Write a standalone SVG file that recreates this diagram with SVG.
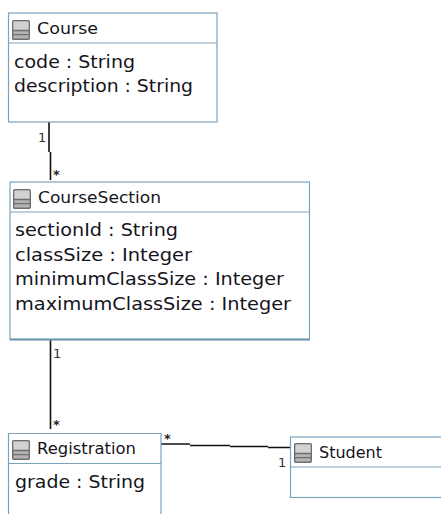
<svg xmlns="http://www.w3.org/2000/svg" width="441" height="514" viewBox="0 0 441 514">
<style>
.box{fill:#fff;stroke:#7ba2bd;stroke-width:1.2}
.div{fill:none;stroke:#7ba2bd;stroke-width:1.2}
text{font-family:"DejaVu Sans","Liberation Sans",sans-serif;fill:#141420}
.t{font-size:16.5px}
.a{font-size:18.5px}
.m{font-size:13px;fill:#333}
.s{font-size:13px;font-weight:bold;fill:#222}
.c{fill:none;stroke:#111;stroke-width:1.6}
</style>
<defs>
<g id="icon">
<rect x="0.7" y="0.7" width="16.6" height="18.6" rx="1" fill="#b4b4b4" stroke="#6e6e6e" stroke-width="1.4"/>
<rect x="1.5" y="1.5" width="15" height="8.5" fill="#d2d2d2"/>
<path d="M1 10.5H17M1 14.7H17" stroke="#6e6e6e" stroke-width="1.3" fill="none"/>
</g>
</defs>
<rect width="441" height="514" fill="#fff"/>
<g id="connectors">
<path class="c" d="M49 122V152M50.5 152V180"/>
<path class="c" d="M50.5 340V429"/>
<path class="c" d="M161 444H190M190 445.5H230M230 446.5H268M268 447.5H290"/>
<text class="m" x="38" y="142">1</text>
<text class="s" x="53" y="179">*</text>
<text class="m" x="53" y="358">1</text>
<text class="s" x="53" y="429">*</text>
<text class="s" x="164" y="443">*</text>
<text class="m" x="278" y="467">1</text>
</g>
<g id="course">
<rect class="box" x="8.5" y="13" width="208.5" height="109"/>
<path class="div" d="M8.5 43H217"/>
<use href="#icon" x="12" y="20"/>
<text class="t" x="37" y="34" textLength="61" lengthAdjust="spacingAndGlyphs">Course</text>
<text class="a" x="14" y="68" textLength="121" lengthAdjust="spacingAndGlyphs">code : String</text>
<text class="a" x="14" y="92" textLength="179" lengthAdjust="spacingAndGlyphs">description : String</text>
</g>
<g id="coursesection">
<rect class="box" x="10" y="182" width="299.5" height="157.5"/>
<path d="M10 339.5H309.5" stroke="#6b93b0" stroke-width="2" fill="none"/>
<path class="div" d="M10 212H309.5"/>
<use href="#icon" x="13" y="189"/>
<text class="t" x="38" y="203" textLength="123" lengthAdjust="spacingAndGlyphs">CourseSection</text>
<text class="a" x="15" y="236" textLength="163" lengthAdjust="spacingAndGlyphs">sectionId : String</text>
<text class="a" x="15" y="261" textLength="177" lengthAdjust="spacingAndGlyphs">classSize : Integer</text>
<text class="a" x="15" y="285" textLength="269" lengthAdjust="spacingAndGlyphs">minimumClassSize : Integer</text>
<text class="a" x="15" y="310" textLength="276" lengthAdjust="spacingAndGlyphs">maximumClassSize : Integer</text>
</g>
<g id="registration">
<path class="box" d="M8.5 515V433.5H161V515"/>
<path class="div" d="M8.5 463.5H161"/>
<use href="#icon" x="12" y="440"/>
<text class="t" x="37" y="454" textLength="99" lengthAdjust="spacingAndGlyphs">Registration</text>
<text class="a" x="15" y="488" textLength="130" lengthAdjust="spacingAndGlyphs">grade : String</text>
</g>
<g id="student">
<rect class="box" x="290.5" y="437" width="155" height="60.5"/>
<path class="div" d="M290.5 467H445"/>
<use href="#icon" x="294" y="443"/>
<text class="t" x="319" y="458" textLength="63" lengthAdjust="spacingAndGlyphs">Student</text>
</g>
</svg>
